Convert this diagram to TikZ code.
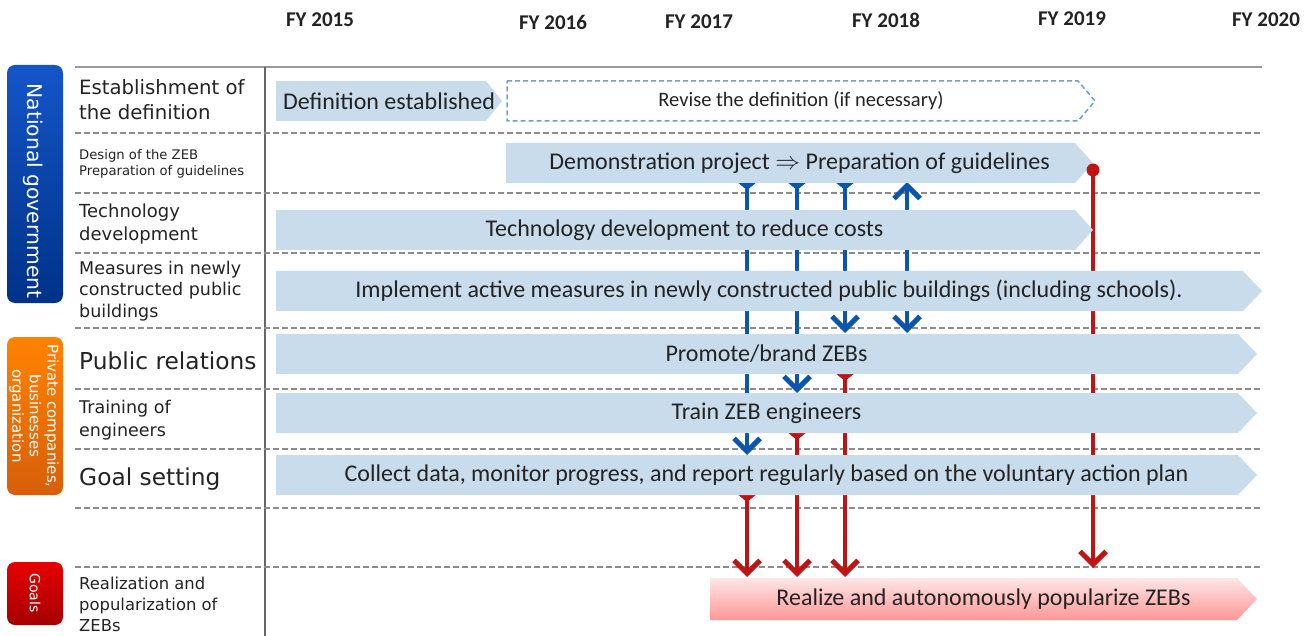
\documentclass[tikz,border=0pt]{standalone}
\usepackage{fontspec}
\setmainfont{Carlito}
\newfontfamily\vfont{DejaVu Sans}
\usetikzlibrary{arrows.meta}
\definecolor{barblue}{RGB}{200,220,235}
\definecolor{dashgray}{RGB}{140,140,140}
\definecolor{textdark}{RGB}{35,35,35}
\definecolor{arrblue}{RGB}{10,85,175}
\definecolor{arrred}{RGB}{192,20,20}
\definecolor{dashblue}{RGB}{110,160,205}
\definecolor{pinktop}{RGB}{255,230,230}
\definecolor{pinkbot}{RGB}{255,150,150}
\definecolor{govtop}{RGB}{20,85,200}
\definecolor{govbot}{RGB}{0,50,135}
\definecolor{privtop}{RGB}{255,130,0}
\definecolor{privbot}{RGB}{215,95,10}
\definecolor{goaltop}{RGB}{230,0,0}
\definecolor{goalbot}{RGB}{165,0,0}
\newcommand\zebbar[8]{%
  \path[#7] (#2,#4) -- ({#3-#6},#4) -- (#3,{(#4+#5)/2}) -- ({#3-#6},#5) -- (#2,#5) -- cycle;
  \node[bartext] (#1) at ({(#2+#3)/2},{(#4+#5)/2}) {#8};}
\tikzset{
  dline/.style={draw=dashgray, line width=1.3pt, dash pattern=on 6pt off 3pt},
  barfill/.style={fill=barblue},
  bartext/.style={font=\fontsize{24}{28}\selectfont, text=textdark, inner sep=0pt},
  lab/.style={anchor=west, align=left, inner sep=0pt, text=textdark},
  fy/.style={font=\bfseries\fontsize{21}{24}\selectfont, text=textdark, inner sep=0pt},
  sidebox/.style={rounded corners=8pt},
  sidetext/.style={text=white, rotate=-90, align=center, inner sep=0pt},
  barr/.style={draw=arrblue, line width=4.2pt},
  rarr/.style={draw=arrred, line width=4.2pt},
  head/.tip={Straight Barb[length=13pt,width=26pt,line width=5pt]},
  cap/.tip={Triangle[reversed,length=7pt,width=17pt]},
  tdown/.style={cap-head},
  both/.style={head-head},
  plaindown/.style={-head},
}
\begin{document}
\begin{tikzpicture}[x=1pt,y=-1pt]
\useasboundingbox (0,0) rectangle (1306,636);
% year header
\node[fy] (fy15) at (320,20) {FY 2015};
\node[fy] (fy16) at (553,22) {FY 2016};
\node[fy] (fy17) at (699,22) {FY 2017};
\node[fy] (fy18) at (886,20) {FY 2018};
\node[fy] (fy19) at (1072,19) {FY 2019};
\node[fy] (fy20) at (1266,20) {FY 2020};
% grid
\draw[draw=gray!80, line width=2pt] (75,67) -- (1262,67);
\draw[draw=black!60, line width=2pt] (265,67) -- (265,636);
\foreach \yy in {133,193,253,328,389,449,508,567}
  \draw[dline] (75,\yy) -- (1262,\yy);
% side boxes
\shade[sidebox, top color=govtop, bottom color=govbot] (7,65) rectangle (63,303);
\node[sidetext, font=\vfont\fontsize{20.3}{22}\selectfont] (gov) at (33,191) {National government};
\shade[sidebox, top color=privtop, bottom color=privbot] (7,337) rectangle (63,495);
\node[sidetext, font=\vfont\fontsize{15}{17.5}\selectfont] (priv) at (34,416) {Private companies,\\businesses\\organization};
\shade[sidebox, top color=goaltop, bottom color=goalbot] (7,562) rectangle (63,625);
\node[sidetext, font=\vfont\fontsize{14}{16}\selectfont] (goals) at (35,593) {Goals};
% row labels
\node[lab, font=\vfont\fontsize{19.7}{25}\selectfont] (l1) at (79,100) {Establishment of\\the definition};
\node[lab, font=\vfont\fontsize{13.2}{15.5}\selectfont] (l2) at (79,164) {Design of the ZEB\\Preparation of guidelines};
\node[lab, font=\vfont\fontsize{18}{23}\selectfont] (l3) at (79,224) {Technology\\development};
\node[lab, font=\vfont\fontsize{17.5}{21.5}\selectfont] (l4) at (79,291) {Measures in newly\\constructed public\\buildings};
\node[lab, font=\vfont\fontsize{23.3}{27}\selectfont] (l5) at (79,361) {Public relations};
\node[lab, font=\vfont\fontsize{17.5}{22.5}\selectfont] (l6) at (79,420) {Training of\\engineers};
\node[lab, font=\vfont\fontsize{23.3}{27}\selectfont] (l7) at (79,479) {Goal setting};
\node[lab, font=\vfont\fontsize{16.4}{21}\selectfont] (l8) at (79,604) {Realization and\\popularization of\\ZEBs};
% connectors (behind bars)
\coordinate (b1s) at (747,183); \coordinate (b1e) at (747,455);
\coordinate (b2s) at (797,183); \coordinate (b2e) at (797,393);
\coordinate (b3s) at (845,183); \coordinate (b3e) at (845,333);
\coordinate (b4s) at (907,182); \coordinate (b4e) at (907,333);
\coordinate (r1s) at (747,495); \coordinate (r1e) at (747,577);
\coordinate (r2s) at (797,433); \coordinate (r2e) at (797,577);
\coordinate (r3s) at (845,374); \coordinate (r3e) at (845,577);
\coordinate (r4s) at (1093,170); \coordinate (r4e) at (1093,568);
\draw[barr, tdown] (b1s) -- (b1e);
\draw[barr, tdown] (b2s) -- (b2e);
\draw[barr, tdown] (b3s) -- (b3e);
\draw[barr, both] (b4s) -- (b4e);
\draw[rarr, tdown] (r1s) -- (r1e);
\draw[rarr, tdown] (r2s) -- (r2e);
\draw[rarr, tdown] (r3s) -- (r3e);
\draw[rarr, plaindown] (r4s) -- (r4e);
% bars
\zebbar{def}{276}{502}{81}{121}{16}{barfill}{Definition established}
\zebbar{rev}{507}{1095}{81}{121}{17}{draw=dashblue, line width=1.5pt, dash pattern=on 5pt off 3pt}{\fontsize{20.5}{24}\selectfont Revise the definition (if necessary)}
\zebbar{demo}{506}{1093}{143}{183}{18}{barfill}{Demonstration project $\Rightarrow$ Preparation of guidelines}
\zebbar{tech}{276}{1093}{210}{250}{18}{barfill}{Technology development to reduce costs}
\zebbar{impl}{276}{1262}{271}{311}{19}{barfill}{Implement active measures in newly constructed public buildings (including schools).}
\zebbar{prom}{276}{1257}{334}{374}{19}{barfill}{Promote/brand ZEBs}
\zebbar{train}{276}{1257}{393}{433}{19}{barfill}{Train ZEB engineers}
\zebbar{coll}{276}{1257}{455}{495}{19}{barfill}{Collect data, monitor progress, and report regularly based on the voluntary action plan}
\zebbar{real}{710}{1257}{578}{620}{20}{top color=pinktop, bottom color=pinkbot}{Realize and autonomously popularize ZEBs}
% red start dot on top
\fill[arrred] (r4s) circle (6.5pt);
\end{tikzpicture}
\end{document}
